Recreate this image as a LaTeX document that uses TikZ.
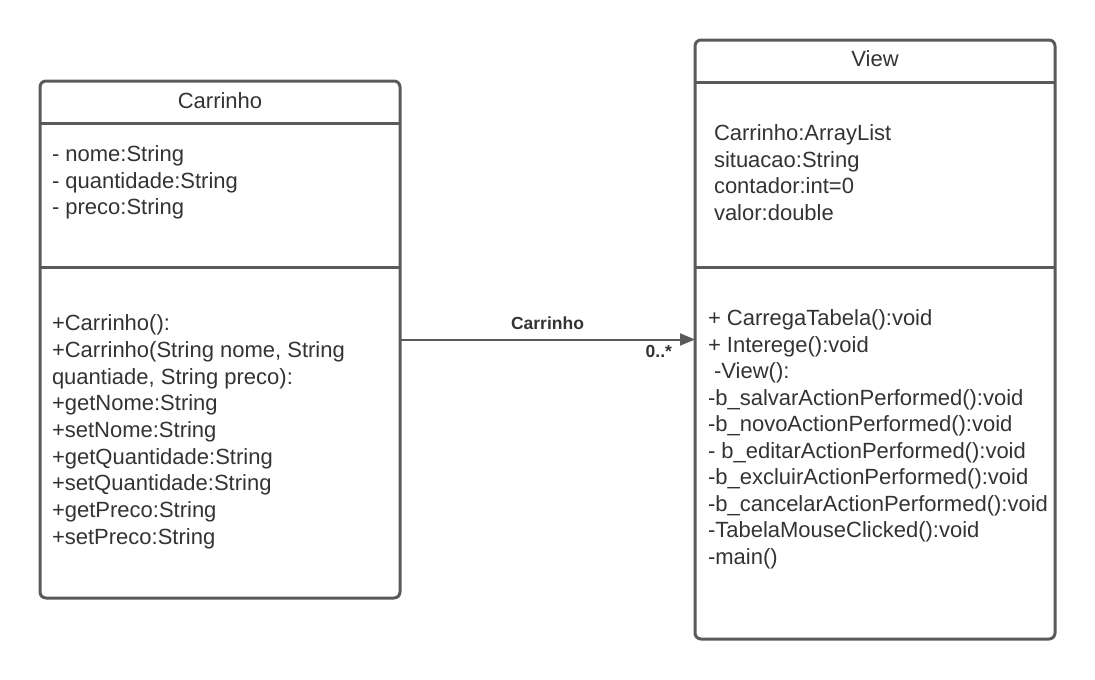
\documentclass[tikz,border=0pt]{standalone}
\usepackage{fontspec}
\setmainfont{Liberation Sans}
\usetikzlibrary{arrows.meta}
\definecolor{umlline}{HTML}{5A5A5A}
\definecolor{umltext}{HTML}{333333}
\begin{document}
\begin{tikzpicture}[x=1pt,y=-1pt]
        \useasboundingbox (0,0) rectangle (1095,680);
        \begin{scope}[every node/.style={rectangle,draw=umlline,line width=3pt,rounded corners=6pt,inner sep=0pt,outer sep=0pt}]
            \node[minimum width=360pt,minimum height=517pt] (C) at (220,339.5) {};
            \node[minimum width=360pt,minimum height=599pt] (V) at (875,339.5) {};
        \end{scope}
        \begin{scope}[umlline,line width=3pt]
            \draw ([yshift=-42pt]C.north west) -- ([yshift=-42pt]C.north east);
            \draw ([yshift=-186pt]C.north west) -- ([yshift=-186pt]C.north east);
            \draw ([yshift=-42pt]V.north west) -- ([yshift=-42pt]V.north east);
            \draw ([yshift=-227pt]V.north west) -- ([yshift=-227pt]V.north east);
        \end{scope}
        \begin{scope}[every node/.style={align=left,anchor=north west,inner sep=0pt,outer sep=0pt,text=umltext,font=\fontsize{22}{26.5}\selectfont}]
            \node[anchor=base] (C1) at ([yshift=-27pt]C.north) {Carrinho};
            \node (C2) at ([xshift=12pt,yshift=-65pt]C.north west) {- nome:String\\- quantidade:String\\- preco:String};
            \node[font=\fontsize{22}{26.65}\selectfont] (C3) at ([xshift=12pt,yshift=-234pt]C.north west) {+Carrinho():\\+Carrinho(String nome, String\\quantiade, String preco):\\+getNome:String\\+setNome:String\\+getQuantidade:String\\+setQuantidade:String\\+getPreco:String\\+setPreco:String};
            \node[anchor=base] (V1) at ([yshift=-26pt]V.north) {View};
            \node (V2) at ([xshift=19pt,yshift=-85pt]V.north west) {Carrinho:ArrayList\\situacao:String\\contador:int=0\\valor:double};
            \node (V3) at ([xshift=13pt,yshift=-270pt]V.north west) {+ CarregaTabela():void\\+ Interege():void\\\ -View():\\-b\_salvarActionPerformed():void\\-b\_novoActionPerformed():void\\- b\_editarActionPerformed():void\\-b\_excluirActionPerformed():void\\-b\_cancelarActionPerformed():void\\-TabelaMouseClicked():void\\-main()};
        \end{scope}
        \begin{scope}[every node/.style={inner sep=0pt,text=umltext,font=\fontsize{17.5}{20}\selectfont\bfseries}]
            \draw[-{Triangle[length=15pt,width=12pt]},line width=2pt,umlline] (C) -- (V)
                node[pos=0.5,anchor=base,yshift=10pt] (L1) {Carrinho}
                node[pos=1,anchor=base east,xshift=-22pt,yshift=-18pt] (L2) {0..*};
        \end{scope}
    \end{tikzpicture}
\end{document}
